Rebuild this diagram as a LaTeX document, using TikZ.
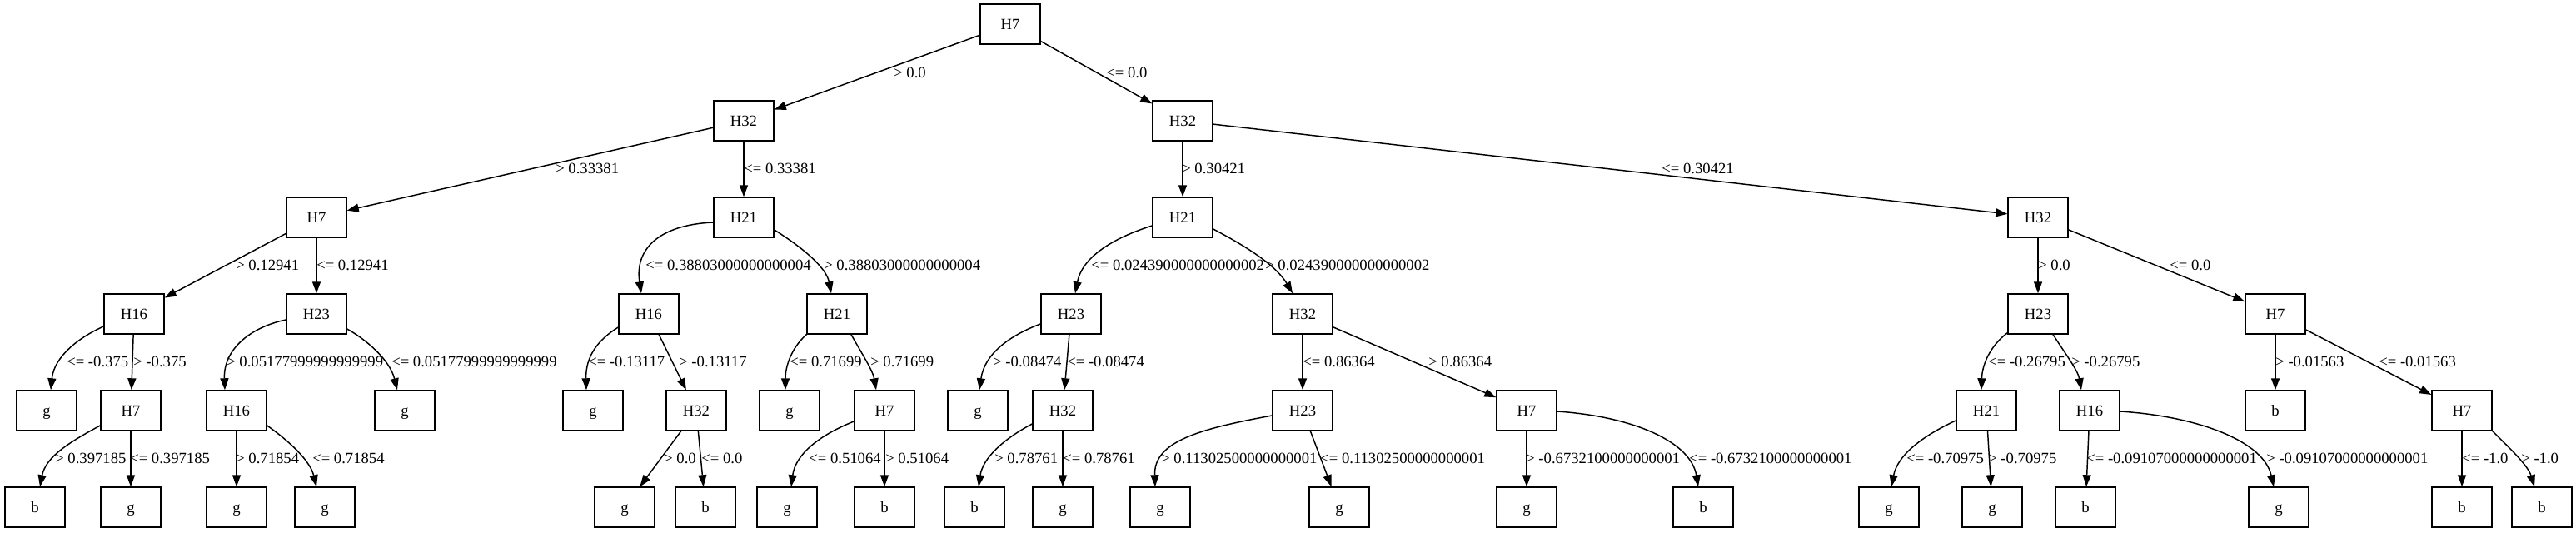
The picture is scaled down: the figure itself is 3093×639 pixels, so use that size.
\documentclass[tikz,border=0pt]{standalone}
\usepackage{fontspec}
\setmainfont{Liberation Serif}
\usetikzlibrary{arrows.meta,calc}
\begin{document}
\begin{tikzpicture}[x=0.75pt,y=-0.75pt,
  box/.style={draw, line width=1.1pt, minimum width=54pt, minimum height=36pt, inner sep=0pt, text height=9.5pt, text depth=0pt, font=\fontsize{14pt}{16pt}\selectfont},
  lab/.style={anchor=base west, inner sep=0pt, font=\fontsize{14pt}{16pt}\selectfont},
  conn/.style={line width=1.1pt, -{Triangle[length=10.5pt,width=7.5pt]}}]
\useasboundingbox (0,0) rectangle (3093,639);
% row 0
\node[box] (r) at (1213,29) {H7};
% row 1
\node[box] (a1) at (893,145) {H32};
\node[box] (a2) at (1420,145) {H32};
% row 2
\node[box] (b1) at (380,261) {H7};
\node[box] (b2) at (893,261) {H21};
\node[box] (b3) at (1420,261) {H21};
\node[box] (b4) at (2447,261) {H32};
% row 3
\node[box] (c1) at (161,377) {H16};
\node[box] (c2) at (380,377) {H23};
\node[box] (c3) at (779,377) {H16};
\node[box] (c4) at (1005,377) {H21};
\node[box] (c5) at (1286,377) {H23};
\node[box] (c6) at (1564,377) {H32};
\node[box] (c7) at (2447,377) {H23};
\node[box] (c8) at (2732,377) {H7};
% row 4
\node[box] (d1) at (56,493) {g};
\node[box] (d2) at (157,493) {H7};
\node[box] (d3) at (284,493) {H16};
\node[box] (d4) at (486,493) {g};
\node[box] (d5) at (712,493) {g};
\node[box] (d6) at (836,493) {H32};
\node[box] (d7) at (948,493) {g};
\node[box] (d8) at (1062,493) {H7};
\node[box] (d9) at (1174,493) {g};
\node[box] (d10) at (1276,493) {H32};
\node[box] (d11) at (1564,493) {H23};
\node[box] (d12) at (1833,493) {H7};
\node[box] (d13) at (2385,493) {H21};
\node[box] (d14) at (2509,493) {H16};
\node[box] (d15) at (2732,493) {b};
\node[box] (d16) at (2956,493) {H7};
% row 5
\node[box] (e1) at (42,609) {b};
\node[box] (e2) at (157,609) {g};
\node[box] (e3) at (284,609) {g};
\node[box] (e4) at (390,609) {g};
\node[box] (e5) at (750,609) {g};
\node[box] (e6) at (847,609) {b};
\node[box] (e7) at (945,609) {g};
\node[box] (e8) at (1062,609) {b};
\node[box] (e9) at (1170,609) {b};
\node[box] (e10) at (1276,609) {g};
\node[box] (e11) at (1393,609) {g};
\node[box] (e12) at (1608,609) {g};
\node[box] (e13) at (1833,609) {g};
\node[box] (e14) at (2045,609) {b};
\node[box] (e15) at (2268,609) {g};
\node[box] (e16) at (2392,609) {g};
\node[box] (e17) at (2504,609) {b};
\node[box] (e18) at (2736,609) {g};
\node[box] (e19) at (2956,609) {b};
\node[box] (e20) at (3052,609) {b};
% edges row 0-1
\draw[conn] (r) -- (a1);
\draw[conn] (r) -- (a2);
% row 1-2
\draw[conn] (a1) -- (b1);
\draw[conn] (a1) -- (b2);
\draw[conn] (a2) -- (b3);
\draw[conn] (a2) -- (b4);
% row 2-3
\draw[conn] (b1) -- (c1);
\draw[conn] (b1) -- (c2);
\draw[conn] ($(b2.west)+(0,6)$) .. controls (790,270) and (762,300) .. ($(c3.north)+(-9,0)$);
\draw[conn] ($(b2.east)+(0,15)$) .. controls (960,295) and (992,320) .. ($(c4.north)+(-7,0)$);
\draw[conn] ($(b3.west)+(0,10)$) .. controls (1345,283) and (1300,305) .. ($(c5.north)+(5,0)$);
\draw[conn] ($(b3.east)+(0,14)$) .. controls (1485,290) and (1530,315) .. ($(c6.north)+(-12,0)$);
\draw[conn] (b4) -- (c7);
\draw[conn] (b4) -- (c8);
% row 3-4
\draw[conn] ($(c1.west)+(0,15)$) .. controls (95,405) and (65,428) .. ($(d1.north)+(5,0)$);
\draw[conn] (c1) -- (d2);
\draw[conn] ($(c2.west)+(0,7)$) .. controls (300,393) and (268,420) .. ($(d3.north)+(-14,0)$);
\draw[conn] ($(c2.east)+(0,18)$) .. controls (440,408) and (468,432) .. ($(d4.north)+(-9,0)$);
\draw[conn] ($(c3.west)+(0,16)$) .. controls (718,408) and (703,428) .. ($(d5.north)+(-8,0)$);
\draw[conn] (c3) -- (d6);
\draw[conn] (c4.south west) .. controls (950,418) and (943,440) .. ($(d7.north)+(-5,0)$);
\draw[conn] ($(c4.south)+(17,0)$) .. controls (1035,425) and (1048,445) .. ($(d8.north)+(-10,0)$);
\draw[conn] ($(c5.west)+(0,12)$) .. controls (1212,403) and (1182,425) .. ($(d9.north)+(2,0)$);
\draw[conn] (c5) -- (d10);
\draw[conn] (c6) -- (d11);
\draw[conn] (c6) -- (d12);
\draw[conn] ($(c7.south west)+(0,-2)$) .. controls (2390,415) and (2380,437) .. ($(d13.north)+(-6,0)$);
\draw[conn] ($(c7.south)+(18,0)$) .. controls (2480,425) and (2495,445) .. ($(d14.north)+(-10,0)$);
\draw[conn] (c8) -- (d15);
\draw[conn] (c8) -- (d16);
% row 4-5
\draw[conn] ($(d2.west)+(0,18)$) .. controls (85,530) and (55,548) .. ($(e1.north)+(6,0)$);
\draw[conn] (d2) -- (e2);
\draw[conn] (d3) -- (e3);
\draw[conn] ($(d3.east)+(0,18)$) .. controls (345,528) and (372,552) .. ($(e4.north)+(-10,0)$);
\draw[conn] (d6) -- (e5);
\draw[conn] (d6) -- (e6);
\draw[conn] ($(d8.west)+(0,13)$) .. controls (985,522) and (955,545) .. ($(e7.north)+(5,0)$);
\draw[conn] (d8) -- (e8);
\draw[conn] ($(d10.west)+(0,16)$) .. controls (1205,527) and (1180,550) .. ($(e9.north)+(5,0)$);
\draw[conn] (d10) -- (e10);
\draw[conn] ($(d11.west)+(0,6)$) .. controls (1440,515) and (1385,530) .. ($(e11.north)+(-6,0)$);
\draw[conn] (d11) -- (e12);
\draw[conn] (d12) -- (e13);
\draw[conn] ($(d12.east)+(0,1)$) .. controls (1960,500) and (2030,530) .. ($(e14.north)+(-6,0)$);
\draw[conn] ($(d13.west)+(0,12)$) .. controls (2305,525) and (2278,548) .. ($(e15.north)+(3,0)$);
\draw[conn] (d13) -- (e16);
\draw[conn] (d14) -- (e17);
\draw[conn] ($(d14.east)+(0,1)$) .. controls (2640,500) and (2718,530) .. ($(e18.north)+(-6,0)$);
\draw[conn] (d16) -- (e19);
\draw[conn] (d16.south east) .. controls (3010,535) and (3035,558) .. ($(e20.north)+(-9,0)$);
% labels
\node[lab] (l1) at (1073,93) {> 0.0};
\node[lab] (l2) at (1328,93) {<= 0.0};
\node[lab] (l3) at (667,208) {> 0.33381};
\node[lab] (l4) at (893,208) {<= 0.33381};
\node[lab] (l5) at (1419,208) {> 0.30421};
\node[lab] (l6) at (1995,208) {<= 0.30421};
\node[lab] (l7) at (283,324) {> 0.12941};
\node[lab] (l8) at (380,324) {<= 0.12941};
\node[lab] (l9) at (775,324) {<= 0.38803000000000004};
\node[lab] (l10) at (989,324) {> 0.38803000000000004};
\node[lab] (l11) at (1310,324) {<= 0.024390000000000002};
\node[lab] (l12) at (1519,324) {> 0.024390000000000002};
\node[lab] (l13) at (2447,324) {> 0.0};
\node[lab] (l14) at (2605,324) {<= 0.0};
\node[lab] (l15) at (80,440) {<= -0.375};
\node[lab] (l16) at (160,440) {> -0.375};
\node[lab] (l17) at (272,440) {> 0.05177999999999999};
\node[lab] (l18) at (470,440) {<= 0.05177999999999999};
\node[lab] (l19) at (706,440) {<= -0.13117};
\node[lab] (l20) at (815,440) {> -0.13117};
\node[lab] (l21) at (948,440) {<= 0.71699};
\node[lab] (l22) at (1045,440) {> 0.71699};
\node[lab] (l23) at (1192,440) {> -0.08474};
\node[lab] (l24) at (1281,440) {<= -0.08474};
\node[lab] (l25) at (1564,440) {<= 0.86364};
\node[lab] (l26) at (1715,440) {> 0.86364};
\node[lab] (l27) at (2387,440) {<= -0.26795};
\node[lab] (l28) at (2487,440) {> -0.26795};
\node[lab] (l29) at (2732,440) {> -0.01563};
\node[lab] (l30) at (2856,440) {<= -0.01563};
\node[lab] (l31) at (66,556) {> 0.397185};
\node[lab] (l32) at (156,556) {<= 0.397185};
\node[lab] (l33) at (283,556) {> 0.71854};
\node[lab] (l34) at (375,556) {<= 0.71854};
\node[lab] (l35) at (797,556) {> 0.0};
\node[lab] (l36) at (842,556) {<= 0.0};
\node[lab] (l37) at (971,556) {<= 0.51064};
\node[lab] (l38) at (1063,556) {> 0.51064};
\node[lab] (l39) at (1194,556) {> 0.78761};
\node[lab] (l40) at (1276,556) {<= 0.78761};
\node[lab] (l41) at (1394,556) {> 0.11302500000000001};
\node[lab] (l42) at (1585,556) {<= 0.11302500000000001};
\node[lab] (l43) at (1832,556) {> -0.6732100000000001};
\node[lab] (l44) at (2028,556) {<= -0.6732100000000001};
\node[lab] (l45) at (2289,556) {<= -0.70975};
\node[lab] (l46) at (2387,556) {> -0.70975};
\node[lab] (l47) at (2505,556) {<= -0.09107000000000001};
\node[lab] (l48) at (2721,556) {> -0.09107000000000001};
\node[lab] (l49) at (2956,556) {<= -1.0};
\node[lab] (l50) at (3027,556) {> -1.0};
\end{tikzpicture}
\end{document}
